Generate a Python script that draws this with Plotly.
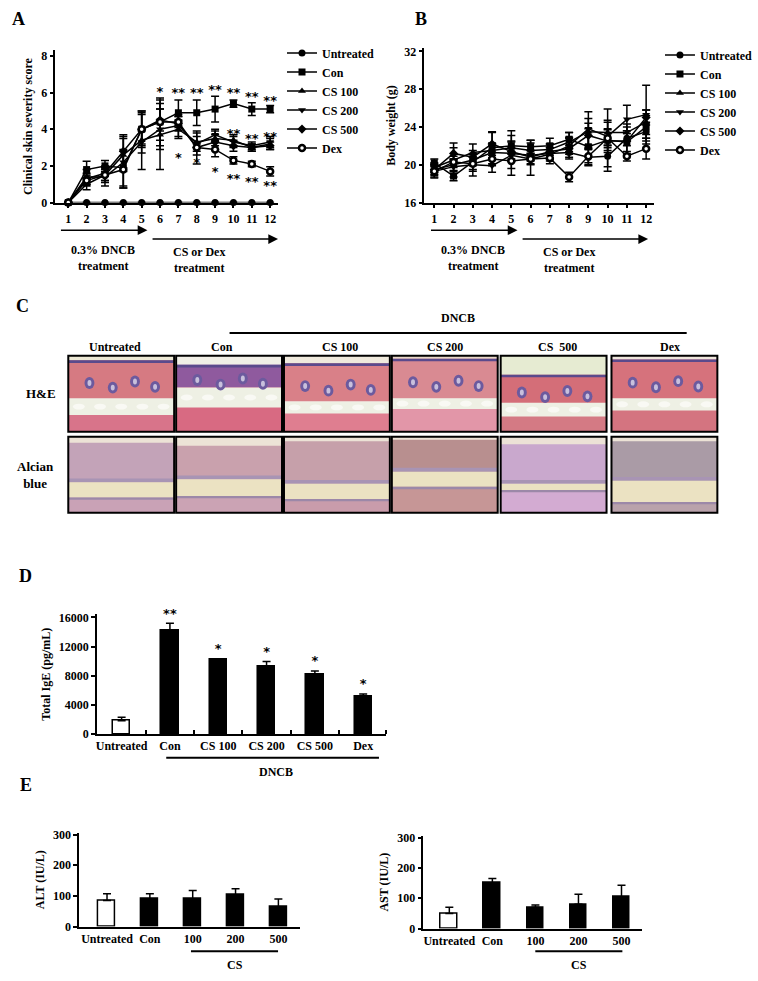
import plotly.graph_objects as go

W, H = 758, 981
OFF = 0
FONT = "Liberation Serif"

# ---------------- data ----------------
days = [1, 2, 3, 4, 5, 6, 7, 8, 9, 10, 11, 12]
groups = ["Untreated", "Con", "CS 100", "CS 200", "CS 500", "Dex"]

# A - clinical skin severity score
a_untreated = [0, 0, 0, 0, 0, 0, 0, 0, 0, 0, 0, 0]
a_untreated_err = [0, 0, 0, 0, 0, 0, 0, 0, 0, 0, 0, 0]
a_con = [0, 1.8, 2.0, 1.9, 4.0, 4.4, 4.9, 4.9, 5.1, 5.4, 5.1, 5.1]
a_con_err = [0, 0.45, 0.3, 1.0, 1.0, 1.3, 0.7, 0.7, 0.7, 0.2, 0.35, 0.2]
a_cs100 = [0, 1.0, 1.5, 2.6, 3.4, 3.7, 4.0, 3.3, 3.5, 3.4, 3.0, 3.2]
a_cs100_err = [0, 0.3, 0.4, 0.9, 1.6, 1.9, 0.5, 0.3, 0.4, 0.3, 0.2, 0.3]
a_cs200 = [0, 1.4, 1.4, 2.2, 3.3, 4.0, 4.2, 3.2, 3.7, 3.3, 3.1, 3.3]
a_cs200_err = [0, 0.4, 0.5, 1.4, 0.6, 1.1, 0.6, 0.6, 0.3, 0.3, 0.2, 0.3]
a_cs500 = [0, 1.3, 1.6, 2.8, 4.0, 4.5, 4.3, 3.0, 3.3, 3.1, 3.0, 3.1]
a_cs500_err = [0, 0.3, 0.4, 0.9, 0.8, 0.6, 0.4, 0.9, 0.4, 0.3, 0.2, 0.2]
a_dex = [0, 1.2, 1.5, 1.8, 4.0, 4.4, 4.4, 3.0, 2.9, 2.3, 2.1, 1.7]
a_dex_err = [0, 0.3, 0.3, 1.0, 0.9, 1.0, 0.3, 0.2, 0.4, 0.2, 0.15, 0.25]

a_star_x = [6, 7, 8, 9, 10, 11, 12, 10, 11, 12, 7, 8, 9, 10, 11, 12]
a_star_y = [6.0, 5.95, 5.95, 6.1, 5.95, 5.7, 5.5, 3.7, 3.45, 3.55, 2.4, 2.1, 1.65, 1.25, 1.1, 0.85]
a_star_txt = ["*", "**", "**", "**", "**", "**", "**", "**", "**", "**", "*", "*", "*", "**", "**", "**"]

# B - body weight (g)
b_untreated = [19.5, 20.0, 20.5, 21.3, 21.2, 21.0, 21.2, 21.3, 20.8, 20.9, 22.8, 23.5]
b_untreated_err = [0.6, 0.6, 0.6, 0.7, 0.6, 0.5, 0.6, 0.5, 0.9, 1.1, 0.8, 1.0]
b_con = [20.2, 18.8, 20.3, 21.8, 22.0, 21.9, 22.0, 22.7, 21.9, 22.6, 22.4, 24.0]
b_con_err = [0.4, 0.5, 0.8, 1.7, 1.6, 0.7, 0.8, 0.7, 1.9, 3.3, 1.2, 1.2]
b_cs100 = [19.7, 20.5, 21.3, 21.5, 21.8, 21.5, 21.6, 22.4, 23.5, 23.4, 23.4, 24.5]
b_cs100_err = [0.5, 1.8, 0.9, 0.8, 0.7, 1.1, 0.6, 1.0, 1.4, 1.3, 0.9, 1.3]
b_cs200 = [19.3, 19.8, 20.0, 19.9, 21.0, 20.6, 21.1, 22.0, 23.8, 23.0, 24.8, 25.3]
b_cs200_err = [0.6, 0.7, 1.2, 0.7, 2.1, 1.7, 0.7, 0.9, 1.8, 1.5, 1.5, 3.1]
b_cs500 = [19.5, 21.2, 20.8, 22.2, 21.4, 20.8, 21.4, 21.7, 23.1, 22.5, 22.5, 25.0]
b_cs500_err = [0.5, 0.6, 0.7, 1.2, 1.0, 0.7, 0.8, 1.1, 1.3, 1.2, 1.5, 0.8]
b_dex = [19.3, 20.3, 20.1, 20.6, 20.4, 20.6, 20.7, 18.7, 20.9, 22.8, 20.9, 21.7]
b_dex_err = [0.7, 0.6, 0.8, 0.7, 0.8, 0.6, 0.6, 0.5, 0.7, 1.0, 0.5, 1.1]

# D - total IgE (pg/mL)
d_labels = ["Untreated", "Con", "CS 100", "CS 200", "CS 500", "Dex"]
d_values = [1800, 14200, 10200, 9300, 8100, 5100]
d_err = [500, 1000, 120, 650, 550, 400]
d_stars = ["", "**", "*", "*", "*", "*"]

# E - ALT / AST (IU/L)
e_labels = ["Untreated", "Con", "100", "200", "500"]
alt_values = [85, 90, 90, 103, 65]
alt_err = [22, 17, 28, 20, 25]
ast_values = [50, 150, 70, 80, 105]
ast_err = [20, 15, 8, 33, 38]

# C - histology panel labels
c_cols = ["Untreated", "Con", "CS 100", "CS 200", "CS  500", "Dex"]
c_rows = ["H&E", "Alcian<br>blue"]


def px(x):
	return (x - OFF) / W


def py(y):
	return 1 - (y - OFF) / H


fig = go.Figure()

symbols = ["circle", "square", "triangle-up", "triangle-down", "diamond", "circle"]
a_series = [(a_untreated, a_untreated_err), (a_con, a_con_err), (a_cs100, a_cs100_err),
			(a_cs200, a_cs200_err), (a_cs500, a_cs500_err), (a_dex, a_dex_err)]
b_series = [(b_untreated, b_untreated_err), (b_con, b_con_err), (b_cs100, b_cs100_err),
			(b_cs200, b_cs200_err), (b_cs500, b_cs500_err), (b_dex, b_dex_err)]

for axn, series, leg in [("", a_series, "legend"), ("2", b_series, "legend2")]:
	for pos, (vals, err) in enumerate(series):
		is_dex = groups[pos] == "Dex"
		fig.add_trace(go.Scatter(
			x=days, y=vals, name=groups[pos], mode="lines+markers",
			line=dict(color="black", width=1.5),
			marker=dict(symbol=symbols[pos], size=6 if is_dex else 7,
						color="white" if is_dex else "black",
						line=dict(color="black", width=2.5 if is_dex else 0)),
			error_y=dict(type="data", array=err, color="black", thickness=1.5, width=4),
			xaxis="x" + axn, yaxis="y" + axn, legend=leg, cliponaxis=False,
		))

fig.add_trace(go.Scatter(
	x=a_star_x, y=a_star_y, text=a_star_txt, mode="text", showlegend=False,
	textfont=dict(family="DejaVu Sans", size=13, color="#000000"), xaxis="x", yaxis="y",
	cliponaxis=False,
))

# D bars
d_x = list(range(len(d_labels)))
fig.add_trace(go.Bar(
	x=d_x, y=d_values, width=0.36, showlegend=False,
	marker=dict(color=["white"] + ["black"] * 5, line=dict(color="black", width=1.5)),
	error_y=dict(type="data", symmetric=False, array=d_err, arrayminus=[0, 0, 0, 0, 0, 0],
				 color="black", thickness=1.5, width=4),
	xaxis="x3", yaxis="y3",
))
fig.add_trace(go.Scatter(
	x=d_x, y=[v + e + 300 for v, e in zip(d_values, d_err)], text=d_stars, mode="text",
	textposition="top center", showlegend=False, cliponaxis=False,
	textfont=dict(family="DejaVu Sans", size=13, color="#000000"), xaxis="x3", yaxis="y3",
))

# E bars
e_x = list(range(len(e_labels)))
for vals, err, axn in [(alt_values, alt_err, "4"), (ast_values, ast_err, "5")]:
	fig.add_trace(go.Bar(
		x=e_x, y=vals, width=0.39, showlegend=False,
		marker=dict(color=["white"] + ["black"] * 4, line=dict(color="black", width=1.5)),
		error_y=dict(type="data", symmetric=False, array=err, arrayminus=[0, 0, 0, 0, 0],
					 color="black", thickness=1.5, width=4),
		xaxis="x" + axn, yaxis="y" + axn,
	))

tickfont = dict(family=FONT, size=12, color="black", weight="bold")
base_axis = dict(showline=True, linecolor="black", linewidth=1.5, ticks="outside", ticklen=4,
				 tickcolor="black", tickwidth=1.5, showgrid=False, zeroline=False,
				 tickfont=tickfont)


def ytitle(text):
	return dict(text=text, font=dict(family=FONT, size=12, color="black", weight="bold"), standoff=6)


legend_style = dict(xanchor="left", yanchor="top", bgcolor="rgba(0,0,0,0)",
					font=dict(family=FONT, size=12, color="black", weight="bold"),
					tracegroupgap=0, itemwidth=30)

fig.update_layout(
	width=W, height=H, margin=dict(l=0, r=0, t=0, b=0),
	paper_bgcolor="white", plot_bgcolor="rgba(0,0,0,0)",
	font=dict(family=FONT, size=12, color="black", weight="bold"),
	bargap=0,
	xaxis=dict(base_axis, domain=[px(55), px(280)], range=[0.3, 12.43], tickvals=days, anchor="y"),
	yaxis=dict(base_axis, domain=[py(200), py(46)], range=[0, 8.3], tickvals=[0, 2, 4, 6, 8],
			   anchor="x", title=ytitle("Clinical skin severity score")),
	xaxis2=dict(base_axis, domain=[px(428), px(660)], range=[0.49, 12.41], tickvals=days, anchor="y2"),
	yaxis2=dict(base_axis, domain=[py(200), py(44)], range=[16, 32.3], tickvals=[16, 20, 24, 28, 32],
				anchor="x2", title=ytitle("Body weight (g)")),
	xaxis3=dict(base_axis, domain=[px(97), px(389)], range=[-0.51, 5.47], tickvals=d_x,
				ticktext=d_labels, ticks="", anchor="y3",
				minor=dict(tickvals=[0.5, 1.5, 2.5, 3.5, 4.5, 5.47], ticks="inside", ticklen=4,
						   tickcolor="black", tickwidth=1.5)),
	yaxis3=dict(base_axis, domain=[py(738), py(617)], range=[0, 16400], tickformat="d",
				tickvals=[0, 4000, 8000, 12000, 16000], anchor="x3", title=ytitle("Total IgE (pg/mL)")),
	xaxis4=dict(base_axis, domain=[px(79), px(302)], range=[-0.65, 4.5], tickvals=e_x,
				ticktext=e_labels, ticks="", anchor="y4"),
	yaxis4=dict(base_axis, domain=[py(933), py(838)], range=[0, 306], tickvals=[0, 100, 200, 300],
				anchor="x4", title=ytitle("ALT (IU/L)")),
	xaxis5=dict(base_axis, domain=[px(427), px(648)], range=[-0.6, 4.48], tickvals=e_x,
				ticktext=e_labels, ticks="", anchor="y5"),
	yaxis5=dict(base_axis, domain=[py(935), py(841)], range=[0, 306], tickvals=[0, 100, 200, 300],
				anchor="x5", title=ytitle("AST (IU/L)")),
	legend=dict(legend_style, x=px(284), y=py(34)),
	legend2=dict(legend_style, x=px(666), y=py(36)),
)

ann = []
shapes = []


def label(x, y, text, size=12, **kw):
	ann.append(dict(x=px(x), y=py(y), xref="paper", yref="paper", text=text, showarrow=False,
					xanchor="center", yanchor="middle",
					font=dict(family=FONT, size=size, color="black", weight="bold"), **kw))


def arrow(x0, x1, y):
	ann.append(dict(x=px(x1), y=py(y), xref="paper", yref="paper", ax=x0 - x1, ay=0, text="",
					showarrow=True, arrowhead=2, arrowsize=1.3, arrowwidth=1.5, arrowcolor="black"))


# panel letters
label(18, 14, "A", 18)
label(424, 14, "B", 18)
label(22, 305, "C", 18)
label(25, 578, "D", 18)
label(25, 790, "E", 18)

# treatment arrows A and B
for off in [0, 374]:
	arrow(60 + off, 148 + off, 228)
	arrow(153 + off, 280 + off, 237)
	label(103 + off, 248, "0.3% DNCB")
	label(103 + off, 264, "treatment")
	label(200 + off, 250, "CS or Dex")
	label(200 + off, 266, "treatment")

# D group bar
shapes.append(dict(type="line", xref="paper", yref="paper", x0=px(167), x1=px(382), y0=py(762), y1=py(762),
				   line=dict(color="black", width=2)))
label(278, 777, "DNCB")

# E group bars
for x0, x1, xc in [(192, 280, 237), (540, 628, 584)]:
	shapes.append(dict(type="line", xref="paper", yref="paper", x0=px(x0), x1=px(x1), y0=py(958), y1=py(958),
					   line=dict(color="black", width=2)))
	label(xc, 972, "CS")

# ---------------- panel C (histology placeholders) ----------------
label(462, 317, "DNCB")
shapes.append(dict(type="line", xref="paper", yref="paper", x0=px(231), x1=px(693), y0=py(332), y1=py(332),
				   line=dict(color="black", width=2)))
col_x = [68, 177, 286, 395, 505, 617]
col_lbl_x = [115, 223, 343, 449, 562, 676]
for i, name in enumerate(c_cols):
	label(col_lbl_x[i], 346, name)
label(40, 393, c_rows[0], 13)
label(35, 476, c_rows[1], 13)

bw = 107
# H&E layer boundaries (fraction of box height from top) and colours per column
he_bg = [0.06, 0.12, 0.10, 0.04, 0.25, 0.05]
he_bgcol = ["#ece8d4", "#f1efe6", "#efe9dc", "#e9d8c8", "#e6ebd2", "#efe6dc"]
he_derm = ["#d67a82", "#8f5a9e", "#d98088", "#d98a92", "#d46e78", "#d6727c"]
he_fat = [(0.56, 0.78), (0.42, 0.68), (0.60, 0.76), (0.56, 0.70), (0.62, 0.80), (0.56, 0.72)]
he_musc = ["#d8748a", "#d86a82", "#df7e90", "#e296a8", "#d47a84", "#d47480"]
al_bg = [0.08, 0.12, 0.06, 0.04, 0.10, 0.06]
al_tis = ["#c3a3b8", "#c9a1ad", "#c6a0aa", "#b88f8f", "#c9a8cd", "#aa9ba6"]
al_fat = [(0.60, 0.80), (0.56, 0.78), (0.62, 0.82), (0.46, 0.66), (0.62, 0.70), (0.58, 0.86)]
al_low = ["#c9a2b6", "#cba3b4", "#c99cab", "#c69696", "#d3abd2", "#b9a2ab"]


def rect(x0, y0, x1, y1, color, line=None):
	shapes.append(dict(type="rect", xref="paper", yref="paper", x0=px(x0), x1=px(x1), y0=py(y1), y1=py(y0),
					   fillcolor=color, line=line or dict(width=0), layer="above"))


def blob(cx, cy, rx, ry, color):
	shapes.append(dict(type="circle", xref="paper", yref="paper", x0=px(cx - rx), x1=px(cx + rx),
					   y0=py(cy + ry), y1=py(cy - ry), fillcolor=color, line=dict(width=0),
					   layer="above"))


for i, x0 in enumerate(col_x):
	# H&E row
	y0, y1 = 355, 432
	h = y1 - y0
	rect(x0, y0, x0 + bw, y1, he_musc[i])
	rect(x0, y0, x0 + bw, y0 + h * he_fat[i][0], he_derm[i])
	rect(x0, y0, x0 + bw, y0 + h * he_bg[i], he_bgcol[i])
	rect(x0, y0 + h * he_bg[i], x0 + bw, y0 + h * (he_bg[i] + 0.035), "#5b4a8c")
	rect(x0, y0 + h * he_fat[i][0], x0 + bw, y0 + h * he_fat[i][1], "#eef0e4")
	for fx in [0.1, 0.3, 0.5, 0.7, 0.9]:
		blob(x0 + bw * fx, y0 + h * (he_fat[i][0] + he_fat[i][1]) / 2, 6, 3, "#f9f9f4")
	mid = (he_bg[i] + he_fat[i][0]) / 2 + 0.05
	for fx, dy in [(0.2, 0.0), (0.42, 0.06), (0.63, -0.02), (0.82, 0.05)]:
		blob(x0 + bw * fx, y0 + h * (mid + dy), 5, 6, "#6c5a9e")
		blob(x0 + bw * fx, y0 + h * (mid + dy), 2, 3, "#c8c0dc")
	rect(x0, y0, x0 + bw, y1, "rgba(0,0,0,0)", dict(color="black", width=2))
	# Alcian blue row
	y0, y1 = 437, 514
	h = y1 - y0
	rect(x0, y0, x0 + bw, y1, al_low[i])
	rect(x0, y0, x0 + bw, y0 + h * al_fat[i][0], al_tis[i])
	rect(x0, y0, x0 + bw, y0 + h * al_bg[i], "#ece2d6")
	rect(x0, y0 + h * (al_fat[i][0] - 0.05), x0 + bw, y0 + h * al_fat[i][0], "#a894b4")
	rect(x0, y0 + h * al_fat[i][0], x0 + bw, y0 + h * al_fat[i][1], "#ebe2c2")
	rect(x0, y0 + h * al_fat[i][1], x0 + bw, y0 + h * (al_fat[i][1] + 0.03), "#9c88a8")
	rect(x0, y0, x0 + bw, y1, "rgba(0,0,0,0)", dict(color="black", width=2))

fig.update_layout(annotations=ann, shapes=shapes)

# drop the default page margin so the 758x981 figure fills the window exactly
fig.write_html("out.html", config={"displayModeBar": False},
			   post_script="document.body.style.margin='0';document.body.style.overflow='hidden';")
